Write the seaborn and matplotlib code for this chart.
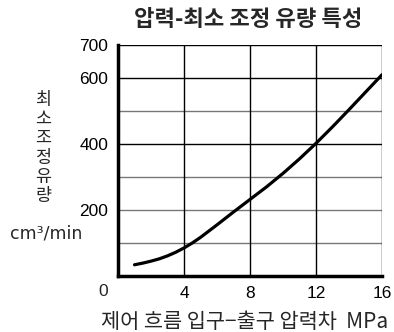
import matplotlib
matplotlib.use("Agg")
import matplotlib.pyplot as plt
import seaborn as sns
import pandas as pd

pressure = [1, 1.5, 2, 2.5, 3, 3.5, 4, 4.5, 5, 6, 7, 8, 9, 10, 11, 12, 13, 14, 15, 16]
flow = [34, 39, 45, 52, 61, 72, 85, 100, 117, 155, 194, 232, 270, 311, 355, 402, 452, 504, 557, 610]
x_ticks = [4, 8, 12, 16]
y_ticks = [200, 400, 600, 700]
title = "압력-최소 조정 유량 특성"
x_label = "제어 흐름 입구−출구 압력차  MPa"
y_label = "최소조정유량"
y_unit = "cm³/min"

sns.set_theme(style="white")
plt.rcParams['font.family'] = ['Liberation Sans', 'Noto Sans CJK KR', 'DejaVu Sans']
kr = ['Noto Sans CJK KR', 'DejaVu Sans']

df = pd.DataFrame({"p": pressure, "q": flow})

fig = plt.figure(figsize=(3.94, 3.32), dpi=100)
ax = fig.add_axes([118/394, 1-276/332, 264/394, 231/332])

# grid lines
for v in [100, 200, 300, 500]:
    ax.axhline(v, color="#777777", lw=1.0, zorder=1)
for v in [400, 600, 700]:
    ax.axhline(v, color="black", lw=1.0, zorder=1)
for v in [4, 8, 12, 16]:
    ax.axvline(v, color="black", lw=1.0, zorder=1)

sns.lineplot(data=df, x="p", y="q", ax=ax, color="black", lw=2.3, zorder=3)
ax.lines[-1].set_solid_joinstyle("round")

ax.set_xlim(0, 16)
ax.set_ylim(0, 700)
ax.set_xticks(x_ticks)
ax.set_yticks(y_ticks)
ax.tick_params(axis="both", length=0, labelsize=12.5, colors="black", pad=7)
ax.set_xlabel("")
ax.set_ylabel("")
for s in ["top", "right"]:
    ax.spines[s].set_visible(False)
for s in ["left", "bottom"]:
    ax.spines[s].set_color("black")
    ax.spines[s].set_linewidth(2.5)
    ax.spines[s].set_zorder(4)

fig.text(103/394, 1-292/332, "0", fontsize=12.5, ha="center", va="center")
fig.text(248/394, 1-19/332, title, fontsize=16, fontweight="bold", ha="center", va="center", family=kr)
fig.text(245/394, 1-322/332, x_label, fontsize=15, ha="center", va="center", family=kr)
fig.text(43/394, 1-148/332, "\n".join(y_label), fontsize=12.5, ha="center", va="center",
         family=kr, linespacing=1.1)
fig.text(46/394, 1-233/332, y_unit, fontsize=12.5, ha="center", va="center", family="DejaVu Sans")

fig.savefig("out.png", dpi=100)
